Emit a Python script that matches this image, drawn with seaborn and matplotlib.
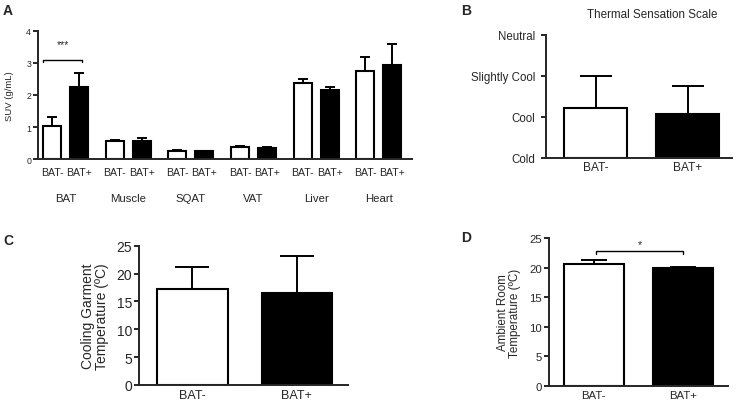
import pandas as pd
import seaborn as sns
import matplotlib.pyplot as plt
from matplotlib.transforms import blended_transform_factory

# Panel A: SUV by tissue
tissues = ["BAT", "Muscle", "SQAT", "VAT", "Liver", "Heart"]
groups = ["BAT-", "BAT+"]
suv_neg = [1.03, 0.55, 0.26, 0.38, 2.38, 2.76]
suv_neg_err = [0.27, 0.05, 0.01, 0.03, 0.12, 0.42]
suv_pos = [2.25, 0.55, 0.24, 0.34, 2.16, 2.95]
suv_pos_err = [0.44, 0.10, 0.01, 0.02, 0.08, 0.65]

# Panel B: thermal sensation (0 = Cold ... 3 = Neutral)
sensation_labels = ["Cold", "Cool", "Slightly Cool", "Neutral"]
sensation = [1.22, 1.07]
sensation_err = [0.78, 0.69]

# Panel C: cooling garment temperature
garment = [17.2, 16.6]
garment_err = [3.9, 6.5]

# Panel D: ambient room temperature
room = [20.7, 19.9]
room_err = [0.7, 0.2]

palette = {"BAT-": "white", "BAT+": "black"}

sns.set_style("ticks")
plt.rcParams["font.family"] = ["Liberation Sans", "DejaVu Sans"]
plt.rcParams["axes.linewidth"] = 1.4
plt.rcParams["xtick.major.width"] = 1.4
plt.rcParams["ytick.major.width"] = 1.4


def one_sided_errors(ax, container, errs, cap):
    for bar, e in zip(container, errs):
        x = bar.get_x() + bar.get_width() / 2
        ax.errorbar(x, bar.get_height(), yerr=[[0], [e]], fmt="none",
                    ecolor="black", elinewidth=1.4, capsize=cap,
                    capthick=1.4, zorder=1)


def style_axes(ax, yfs, xfs):
    sns.despine(ax=ax)
    ax.tick_params(axis="y", length=3.5, labelsize=yfs, pad=1.5)
    ax.tick_params(axis="x", length=0, labelsize=xfs)
    ax.set_xlabel("")


fig = plt.figure(figsize=(7.37, 4.06), dpi=100)

# ---- A ----
axA = fig.add_axes([0.0516, 0.6059, 0.5075, 0.3153])
dfA = pd.DataFrame({
    "tissue": tissues * 2,
    "status": ["BAT-"] * len(tissues) + ["BAT+"] * len(tissues),
    "suv": suv_neg + suv_pos,
})
sns.barplot(data=dfA, x="tissue", y="suv", hue="status", hue_order=groups,
            palette=palette, edgecolor="black", linewidth=1.5, width=0.864,
            gap=0.333, errorbar=None, legend=False, ax=axA)
barsA = list(axA.containers)
for cont, errs in zip(barsA, [suv_neg_err, suv_pos_err]):
    one_sided_errors(axA, cont, errs, 3.6)
centers = []
for i in range(len(tissues)):
    for cont in barsA:
        b = cont[i]
        centers.append(b.get_x() + b.get_width() / 2)
axA.set_xticks(centers)
axA.set_xticklabels(groups * len(tissues))
axA.set_xlim(-0.44, 5.53)
axA.set_ylim(0, 4)
axA.set_yticks([0, 1, 2, 3, 4])
style_axes(axA, 6.3, 7.6)
axA.set_ylabel("SUV (g/mL)", fontsize=6.8, labelpad=9)
axA.tick_params(axis="x", pad=6)
trA = blended_transform_factory(axA.transData, axA.transAxes)
for i, t in enumerate(tissues):
    axA.text(i, -0.305, t, transform=trA, ha="center", va="center",
             fontsize=8.2)
b0, b1 = barsA[0][0], barsA[1][0]
xl = b0.get_x()
xr = b1.get_x() + b1.get_width() / 2 + 0.05
axA.plot([xl, xl, xr, xr], [3.02, 3.1, 3.1, 3.02], color="black", lw=1)
axA.text((xl + xr) / 2, 3.6, "***", ha="center", va="center", fontsize=7.5)

# ---- B ----
axB = fig.add_axes([0.7408, 0.6084, 0.2524, 0.303])
sns.barplot(x=groups, y=sensation, hue=groups, palette=palette,
            edgecolor="black", linewidth=1.5, width=0.68, errorbar=None,
            legend=False, ax=axB)
for cont, e in zip(list(axB.containers), sensation_err):
    one_sided_errors(axB, cont, [e], 11.5)
axB.set_xlim(-0.54, 1.48)
axB.set_ylim(0, 3)
axB.set_yticks(range(4))
axB.set_yticklabels(sensation_labels)
style_axes(axB, 8.3, 8.6)
axB.tick_params(axis="y", pad=4)
axB.tick_params(axis="x", pad=2)
axB.set_title("Thermal Sensation Scale", fontsize=8.4, x=0.57, y=1.15, pad=0)

# ---- C ----
axC = fig.add_axes([0.1886, 0.0493, 0.2836, 0.343])
sns.barplot(x=groups, y=garment, hue=groups, palette=palette,
            edgecolor="black", linewidth=1.5, width=0.675, errorbar=None,
            legend=False, ax=axC)
for cont, e in zip(list(axC.containers), garment_err):
    one_sided_errors(axC, cont, [e], 12)
axC.set_xlim(-0.51, 1.49)
axC.set_ylim(0, 25)
axC.set_yticks(range(0, 26, 5))
style_axes(axC, 10, 9)
axC.set_ylabel("Cooling Garment\nTemperature (ºC)", fontsize=10,
               labelpad=5, linespacing=1.0)
axC.tick_params(axis="x", pad=3)

# ---- D ----
axD = fig.add_axes([0.7449, 0.0475, 0.2429, 0.363])
sns.barplot(x=groups, y=room, hue=groups, palette=palette,
            edgecolor="black", linewidth=1.5, width=0.67, errorbar=None,
            legend=False, ax=axD)
for cont, e in zip(list(axD.containers), room_err):
    one_sided_errors(axD, cont, [e], 9.4)
axD.set_xlim(-0.5, 1.5)
axD.set_ylim(0, 25)
axD.set_yticks(range(0, 26, 5))
style_axes(axD, 8.2, 8.2)
axD.set_ylabel("Ambient Room\nTemperature (ºC)", fontsize=8.4,
               labelpad=6, linespacing=1.0)
axD.tick_params(axis="x", pad=3)
axD.plot([0.02, 0.02, 1.0, 1.0], [22.3, 22.8, 22.8, 22.3], color="black", lw=1)
axD.text(0.51, 24.0, "*", ha="center", va="center", fontsize=7.5)

# panel letters
for lab, x, y in [("A", 0.004, 0.99), ("B", 0.625, 0.99),
                  ("C", 0.004, 0.424), ("D", 0.625, 0.431)]:
    fig.text(x, y, lab, fontsize=10, fontweight="bold", va="top", ha="left")

fig.savefig("out.png", dpi=100)
